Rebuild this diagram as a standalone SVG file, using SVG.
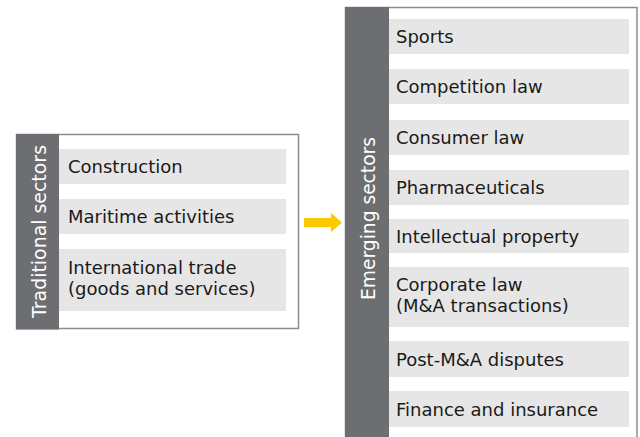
<svg xmlns="http://www.w3.org/2000/svg" width="640" height="437" viewBox="0 0 640 437">
<style>
.frame{fill:#fff;stroke:#8d8d8d;stroke-width:1.5}
.bar{fill:#6d6e71}
.item{fill:#e6e6e6}
.t{font-family:"DejaVu Sans","Liberation Sans",sans-serif;font-size:18px;fill:#1a1a1a}
.v{font-family:"DejaVu Sans","Liberation Sans",sans-serif;font-size:19px;fill:#fff}
</style>
<rect width="640" height="437" fill="#fff"/>
<g id="traditional">
<rect class="frame" x="16.5" y="134.5" width="282" height="194"/>
<rect class="bar" x="16" y="134" width="43" height="195.5"/>
<text class="v" transform="translate(46,318) rotate(-90)" textLength="173" lengthAdjust="spacingAndGlyphs">Traditional sectors</text>
<rect class="item" x="59" y="149" width="227" height="35"/>
<text class="t" x="68" y="173">Construction</text>
<rect class="item" x="59" y="199" width="227" height="35"/>
<text class="t" x="68" y="223">Maritime activities</text>
<rect class="item" x="59" y="249" width="227" height="62"/>
<text class="t" x="68" y="274">International trade</text>
<text class="t" x="68" y="295">(goods and services)</text>
</g>
<g id="connectors">
<polygon points="304,218 331,218 331,213 342,222.5 331,232 331,227 304,227" fill="#fcc900"/>
</g>
<g id="emerging">
<rect class="frame" x="345.5" y="7.5" width="291.5" height="440"/>
<rect class="bar" x="345" y="7" width="44" height="440"/>
<text class="v" transform="translate(375,300) rotate(-90)" textLength="163" lengthAdjust="spacingAndGlyphs">Emerging sectors</text>
<rect class="item" x="389" y="19" width="240" height="35"/>
<text class="t" x="396" y="43">Sports</text>
<rect class="item" x="389" y="69" width="240" height="35"/>
<text class="t" x="396" y="93">Competition law</text>
<rect class="item" x="389" y="120" width="240" height="35"/>
<text class="t" x="396" y="144">Consumer law</text>
<rect class="item" x="389" y="170" width="240" height="35"/>
<text class="t" x="396" y="194">Pharmaceuticals</text>
<rect class="item" x="389" y="219" width="240" height="34"/>
<text class="t" x="396" y="243">Intellectual property</text>
<rect class="item" x="389" y="267" width="240" height="60"/>
<text class="t" x="396" y="291">Corporate law</text>
<text class="t" x="396" y="312">(M&amp;A transactions)</text>
<rect class="item" x="389" y="341" width="240" height="36"/>
<text class="t" x="396" y="366">Post-M&amp;A disputes</text>
<rect class="item" x="389" y="391" width="240" height="36"/>
<text class="t" x="396" y="416">Finance and insurance</text>
</g>
</svg>
